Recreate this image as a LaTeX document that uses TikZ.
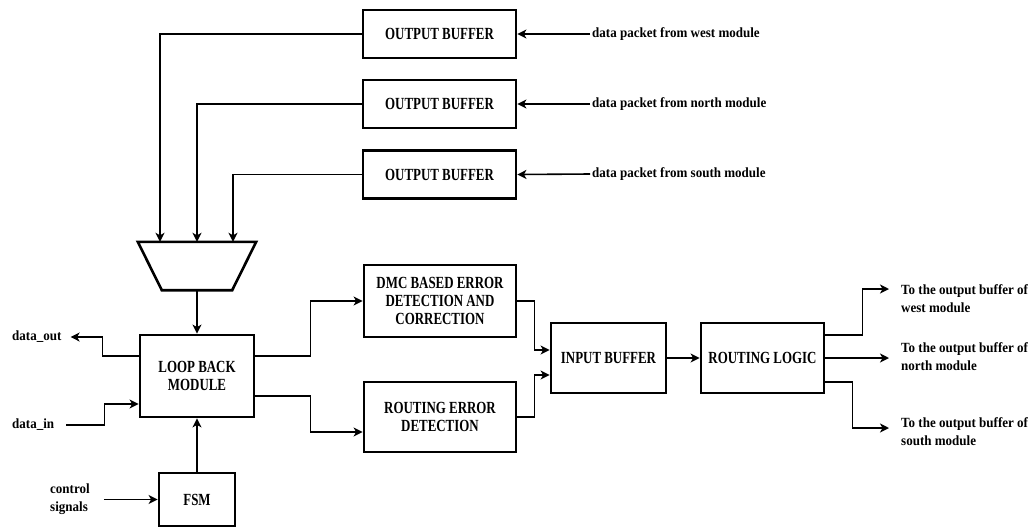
\documentclass[tikz,border=0pt]{standalone}
\usepackage{fontspec}
\setmainfont{Liberation Serif}
\newfontfamily\boxfont[FakeStretch=0.76]{Liberation Serif}
\newfontfamily\lblfont[FakeStretch=0.93]{Liberation Serif}
\usepackage{tikz}
\usetikzlibrary{arrows.meta, calc}

\begin{document}
\begin{tikzpicture}[x=1pt, y=-1pt,
  box/.style={draw, line width=2.8pt, align=center, inner sep=2pt, font=\boxfont\bfseries\fontsize{17}{18}\selectfont},
  lbl/.style={inner sep=2pt, align=left, font=\lblfont\bfseries\fontsize{14}{18}\selectfont},
  arr/.style={-{Stealth[length=9pt, width=9pt, inset=2.5pt]}, line width=1.6pt}
]
  \useasboundingbox (0,0) rectangle (1033,528);

  % Output buffers
  \node[box, minimum width=153, minimum height=48] (obw) at (439.5, 34) {OUTPUT BUFFER};
  \node[box, minimum width=153, minimum height=48] (obn) at (439.5, 104) {OUTPUT BUFFER};
  \node[box, minimum width=153, minimum height=48] (obs) at (439.5, 174.5) {OUTPUT BUFFER};

  \node[lbl, anchor=west] (dpw) at (590, 34) {data packet from west module};
  \node[lbl, anchor=west] (dpn) at (590, 104) {data packet from north module};
  \node[lbl, anchor=west] (dps) at (590, 174) {data packet from south module};

  \draw[arr] (dpw.west) -- (obw.east);
  \draw[arr] (dpn.west) -- (obn.east);
  \draw[arr] (dps.west) -- (obs.east);

  % Multiplexer
  \node[minimum width=118, minimum height=48, inner sep=0pt] (mux) at (197, 266) {};
  \draw[line width=2.6pt] (mux.north west) -- (mux.north east)
    -- ($(mux.south east)+(-24,0)$) -- ($(mux.south west)+(24,0)$) -- cycle;

  \draw[arr] (obw.west) -| ([xshift=-37pt]mux.north);
  \draw[arr] (obn.west) -| (mux.north);
  \draw[arr] (obs.west) -| ([xshift=36pt]mux.north);

  % Loop back module and FSM
  \node[box, minimum width=114, minimum height=82] (loop) at (197, 376) {LOOP BACK\\MODULE};
  \node[box, minimum width=76, minimum height=53] (fsm) at (197, 499.5) {FSM};

  \draw[arr] (mux.south) -- (loop.north);
  \draw[arr] (fsm.north) -- (loop.south);

  \node[lbl, anchor=west] (dout) at (10, 337) {data\_out};
  \node[lbl, anchor=west] (din) at (10, 425) {data\_in};
  \node[lbl, anchor=west] (ctl) at (48, 499.5) {control\\signals};

  \draw[arr] ($(loop.west)+(0,-20)$) -- ++(-36,0) |- ([xshift=7pt]dout.east);
  \draw[arr] ([xshift=10pt]din.east) -- ++(38,0) |- ($(loop.west)+(0,28)$);
  \draw[arr] ([xshift=12pt]ctl.east) -- (fsm.west);

  % Error handling
  \node[box, minimum width=152, minimum height=72] (dmc) at (440, 301) {DMC BASED ERROR\\DETECTION AND\\CORRECTION};
  \node[box, minimum width=152, minimum height=70] (red) at (440, 417) {ROUTING ERROR\\DETECTION};

  \draw[arr] ($(loop.east)+(0,-20)$) -- ++(55,0) |- (dmc.west);
  \draw[arr] ($(loop.east)+(0,20)$) -- ++(55,0) |- ($(red.west)+(0,15)$);

  % Input buffer and routing logic
  \node[box, minimum width=115, minimum height=70] (ib) at (608.5, 358) {INPUT BUFFER};
  \node[box, minimum width=123, minimum height=70] (rl) at (762.5, 358) {ROUTING LOGIC};

  \draw[arr] (dmc.east) -- ++(17,0) |- ($(ib.west)+(0,-8)$);
  \draw[arr] (red.east) -- ++(17,0) |- ($(ib.west)+(0,17)$);
  \draw[arr] (ib) -- (rl);

  % Outputs
  \node[lbl, anchor=west] (tw) at (899, 299) {To the output buffer of\\west module};
  \node[lbl, anchor=west] (tn) at (899, 357) {To the output buffer of\\north module};
  \node[lbl, anchor=west] (ts) at (899, 432) {To the output buffer of\\south module};

  \draw[arr] ($(rl.east)+(0,-23)$) -- ++(37,0) |- ($(tw.west)+(-10,-10)$);
  \draw[arr, shorten >=10pt] (rl.east) -- (rl.east -| tn.west);
  \draw[arr] ($(rl.east)+(0,24)$) -- ++(27,0) |- ($(ts.west)+(-10,-4)$);
\end{tikzpicture}
\end{document}
